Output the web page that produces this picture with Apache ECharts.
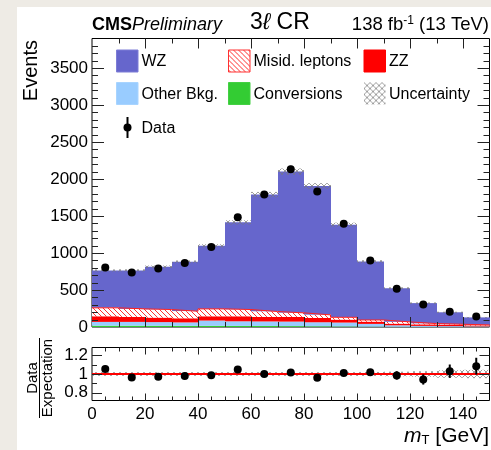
<!DOCTYPE html>
<html>
<head>
<meta charset="utf-8">
<script src="https://cdn.jsdelivr.net/npm/echarts@6/dist/echarts.min.js"></script>
<style>
  html, body { margin: 0; padding: 0; background: #eeebe5; }
  #sheet { position: absolute; left: 17px; top: 7px; right: 0; bottom: 0; background: #ffffff; }
  #chart { position: absolute; left: 0; top: 0; width: 491px; height: 450px; }
</style>
</head>
<body>
<div id="sheet"></div>
<div id="chart"></div>
<script>
// m_T binning (GeV)
const binEdges = [0, 10, 20, 30, 40, 50, 60, 70, 80, 90, 100, 110, 120, 130, 140, 150];

// observed events per bin and their uncertainties
const dataCounts = [805, 737, 791, 864, 1081, 1483, 1790, 2133, 1831, 1397, 900, 516, 304, 205, 141];
const dataErrors = [28, 27, 28, 29, 33, 39, 42, 46, 43, 37, 30, 23, 17, 14, 12];

// expected yields per process
const wzYield    = [504, 520, 579, 669, 852, 1179, 1581, 1910, 1743, 1252, 789, 455, 277, 162, 102];
const misidYield = [114, 108, 109, 95, 100, 91, 72, 54, 41, 31, 22, 23, 10, 7, 6];
const zzYield    = [76, 68, 61, 56, 58, 68, 62, 64, 59, 40, 31, 23, 21, 18, 13];
const otherYield = [51, 51, 49, 46, 71, 62, 61, 61, 54, 52, 37, 20, 13, 11, 8];
const convYield  = [18, 18, 17, 16, 16, 15, 14, 12, 10, 8, 5, 3, 2, 1, 1];

// relative uncertainty of the expectation, and ratio-panel error bars
const systRel     = [0.02, 0.02, 0.02, 0.02, 0.02, 0.02, 0.02, 0.02, 0.02, 0.02, 0.022, 0.025, 0.03, 0.04, 0.045];
const ratioErrors = [0.035, 0.037, 0.035, 0.033, 0.03, 0.027, 0.024, 0.022, 0.022, 0.027, 0.034, 0.045, 0.055, 0.072, 0.09];

// axis labels
const xTickLabels = [0, 20, 40, 60, 80, 100, 120, 140];
const yTickLabels = [0, 500, 1000, 1500, 2000, 2500, 3000, 3500];
const ratioTickLabels = ['0.8', '1', '1.2'];

const FONT = '"Liberation Sans", Arial, Helvetica, sans-serif';
const X_MIN = 0, X_MAX = 150;
const Y_MIN = 0, Y_MAX = 3900;
const R_MIN = 0.715, R_MAX = 1.285;

const N = dataCounts.length;
const binLow = binEdges.slice(0, -1);
const binHigh = binEdges.slice(1);
const centers = binLow.map((l, i) => (l + binHigh[i]) / 2);

// stack from the bottom up
const stackOrder = [convYield, otherYield, zzYield, misidYield, wzYield];
let running = new Array(N).fill(0);
const bounds = stackOrder.map(arr => {
  const lo = running.slice();
  running = running.map((c, i) => c + arr[i]);
  return { lo: lo, hi: running.slice() };
});
const totals = running;
const ratio = dataCounts.map((d, i) => d / totals[i]);

// fill patterns
function hatchPattern() {
  const s = 5, c = document.createElement('canvas');
  c.width = c.height = s;
  const g = c.getContext('2d');
  g.fillStyle = '#ffffff'; g.fillRect(0, 0, s, s);
  g.strokeStyle = '#ff3030'; g.lineWidth = 1;
  g.beginPath();
  g.moveTo(-1, -1); g.lineTo(s + 1, s + 1);
  g.moveTo(-1, s - 1); g.lineTo(1, s + 1);
  g.moveTo(s - 1, -1); g.lineTo(s + 1, 1);
  g.stroke();
  return { image: c, repeat: 'repeat' };
}
function crossPattern(bg) {
  const s = 6, c = document.createElement('canvas');
  c.width = c.height = s;
  const g = c.getContext('2d');
  if (bg) { g.fillStyle = bg; g.fillRect(0, 0, s, s); }
  g.strokeStyle = 'rgba(120,120,120,0.9)'; g.lineWidth = 0.8;
  g.beginPath();
  g.moveTo(0, 0); g.lineTo(s, s);
  g.moveTo(s, 0); g.lineTo(0, s);
  g.stroke();
  return { image: c, repeat: 'repeat' };
}
const HATCH = hatchPattern();
const CROSS = crossPattern(null);
const CROSS_BOX = crossPattern('#ffffff');

function binRect(api, lo, hi, y0, y1) {
  const a = api.coord([lo, y1]), b = api.coord([hi, y0]);
  const x = Math.round(a[0]);
  return { x: x, y: a[1], width: Math.round(b[0]) - x, height: b[1] - a[1] };
}

function layerSeries(name, k, fill, z) {
  return {
    type: 'custom', name: name, xAxisIndex: 0, yAxisIndex: 0, z: z, silent: true,
    data: binLow.map((l, i) => [l, binHigh[i], bounds[k].lo[i], bounds[k].hi[i]]),
    encode: { x: [0, 1], y: [2, 3] },
    renderItem: (p, api) => ({
      type: 'rect',
      shape: binRect(api, api.value(0), api.value(1), api.value(2), api.value(3)),
      style: { fill: fill }
    })
  };
}

function bandSeries(g, lows, highs, z) {
  return {
    type: 'custom', xAxisIndex: g, yAxisIndex: g, z: z, silent: true,
    data: binLow.map((l, i) => [l, binHigh[i], lows[i], highs[i]]),
    encode: { x: [0, 1], y: [2, 3] },
    renderItem: (p, api) => ({
      type: 'rect',
      shape: binRect(api, api.value(0), api.value(1), api.value(2), api.value(3)),
      style: { fill: CROSS }
    })
  };
}

function errorSeries(g, values, errs, z) {
  return {
    type: 'custom', xAxisIndex: g, yAxisIndex: g, z: z, silent: true,
    data: centers.map((c, i) => [c, values[i] - errs[i], values[i] + errs[i]]),
    encode: { x: 0, y: [1, 2] },
    renderItem: (p, api) => {
      const a = api.coord([api.value(0), api.value(1)]);
      const b = api.coord([api.value(0), api.value(2)]);
      return { type: 'line', shape: { x1: a[0], y1: a[1], x2: b[0], y2: b[1] },
               style: { stroke: '#000', lineWidth: 2 } };
    }
  };
}

// frame ticks on all four sides: [x, y, kind, length], kind 0 = x tick, 1 = y tick
function tickSeries(g, xMajor, xMinor, yMajor, yMinor, yLo, lens) {
  const items = [];
  xMajor.forEach(v => items.push([v, yLo, 0, lens[0]]));
  xMinor.forEach(v => items.push([v, yLo, 0, lens[1]]));
  yMajor.forEach(v => items.push([X_MIN, v, 1, lens[2]]));
  yMinor.forEach(v => items.push([X_MIN, v, 1, lens[3]]));
  return {
    type: 'custom', xAxisIndex: g, yAxisIndex: g, z: 8, silent: true,
    data: items,
    renderItem: (p, api) => {
      const cs = p.coordSys;
      const pt = api.coord([api.value(0), api.value(1)]);
      const len = api.value(3);
      const st = { stroke: '#222', lineWidth: 1 };
      if (api.value(2) === 0) {
        const x = Math.round(pt[0]) + 0.5;
        return { type: 'group', children: [
          { type: 'line', shape: { x1: x, y1: cs.y + cs.height, x2: x, y2: cs.y + cs.height - len }, style: st },
          { type: 'line', shape: { x1: x, y1: cs.y, x2: x, y2: cs.y + len }, style: st }
        ] };
      }
      const y = Math.round(pt[1]) + 0.5;
      return { type: 'group', children: [
        { type: 'line', shape: { x1: cs.x, y1: y, x2: cs.x + len, y2: y }, style: st },
        { type: 'line', shape: { x1: cs.x + cs.width, y1: y, x2: cs.x + cs.width - len, y2: y }, style: st }
      ] };
    }
  };
}

function range(a, b, step, skip) {
  const out = [];
  for (let v = a; v <= b + 1e-9; v += step) {
    const r = Math.round(v * 1000) / 1000;
    if (!skip || !skip(r)) out.push(r);
  }
  return out;
}

const mainXMajor = range(20, 140, 20);
const mainXMinor = range(10, 140, 20);
const mainYMajor = range(500, 3500, 500);
const mainYMinor = range(100, 3800, 100, v => v % 500 === 0);
const ratXMajor = range(20, 140, 20);
const ratXMinor = range(5, 145, 5, v => v % 20 === 0);
const ratYMajor = [0.8, 1.0, 1.2];
const ratYMinor = [0.9, 1.1];

// misid. leptons step outline
const misidEdge = binLow.map((l, i) => [l, bounds[3].hi[i]]);
misidEdge.push([binHigh[N - 1], bounds[3].hi[N - 1]]);

const axisOff = { axisLine: { show: false }, axisTick: { show: false }, splitLine: { show: false } };
const labelStyle = { color: '#000', fontSize: 17, fontFamily: FONT };

// legend layout
const legendCols = [116.5, 228.5, 364];
const legendRows = [61, 93.5];
const legendEntries = [
  { text: 'WZ', col: 0, row: 0, fill: '#6666cc', stroke: '#7d7dd6' },
  { text: 'Misid. leptons', col: 1, row: 0, fill: HATCH, stroke: '#ff3030' },
  { text: 'ZZ', col: 2, row: 0, fill: '#ff0000', stroke: '#ff0000' },
  { text: 'Other Bkg.', col: 0, row: 1, fill: '#99ccff', stroke: '#a8d4ff' },
  { text: 'Conversions', col: 1, row: 1, fill: '#33cc33', stroke: '#44d044' },
  { text: 'Uncertainty', col: 2, row: 1, fill: CROSS_BOX, stroke: null }
];
const graphics = [];
legendEntries.forEach(e => {
  const x = legendCols[e.col], y = legendRows[e.row];
  graphics.push({ type: 'rect', x: x, y: y - 11, shape: { width: 21.5, height: 22 },
    style: { fill: e.fill, stroke: e.stroke, lineWidth: 1 }, z: 20 });
  graphics.push({ type: 'text', x: x + 25, y: y + 1,
    style: { text: e.text, fill: '#000', font: '16px ' + FONT, textAlign: 'left', textVerticalAlign: 'middle', align: 'left', verticalAlign: 'middle' }, z: 20 });
});
graphics.push({ type: 'line', shape: { x1: 127.5, y1: 117, x2: 127.5, y2: 138 }, style: { stroke: '#000', lineWidth: 2 }, z: 20 });
graphics.push({ type: 'circle', shape: { cx: 127.5, cy: 127.5, r: 4 }, style: { fill: '#000' }, z: 20 });
graphics.push({ type: 'text', x: 141.5, y: 129,
  style: { text: 'Data', fill: '#000', font: '16px ' + FONT, textAlign: 'left', textVerticalAlign: 'middle', align: 'left', verticalAlign: 'middle' }, z: 20 });

// header
graphics.push({ type: 'text', x: 92, y: 25, z: 20,
  style: { text: '{b|CMS}{i|Preliminary}', textAlign: 'left', textVerticalAlign: 'middle', align: 'left', verticalAlign: 'middle',
    rich: { b: { fontFamily: FONT, fontWeight: 'bold', fontSize: 18, fill: '#000', color: '#000' },
            i: { fontFamily: FONT, fontStyle: 'italic', fontSize: 18, fill: '#000', color: '#000' } } } });
graphics.push({ type: 'text', x: 250, y: 22.5, z: 20,
  style: { text: '3{l|\u2113} CR', fill: '#000', font: '23px ' + FONT, textAlign: 'left', textVerticalAlign: 'middle', align: 'left', verticalAlign: 'middle',
    rich: { l: { fontFamily: FONT, fontStyle: 'italic', fontSize: 23, fill: '#000', color: '#000' } } } });
graphics.push({ type: 'text', x: 489, y: 25, z: 20,
  style: { text: '138 fb{s|-1} (13 TeV)', fill: '#000', font: '18.5px ' + FONT, textAlign: 'right', textVerticalAlign: 'middle', align: 'right', verticalAlign: 'middle',
    rich: { s: { fontFamily: FONT, fontSize: 12, verticalAlign: 'top', fill: '#000', color: '#000', padding: [0, 0, 8, 0] } } } });

// axis titles
graphics.push({ type: 'text', x: 31, y: 40, rotation: Math.PI / 2, z: 20,
  style: { text: 'Events', fill: '#000', font: '20px ' + FONT, textAlign: 'right', textVerticalAlign: 'middle', align: 'right', verticalAlign: 'middle' } });
graphics.push({ type: 'group', x: 39.5, y: 378, rotation: Math.PI / 2, z: 20, children: [
  { type: 'text', x: 0, y: -7, style: { text: 'Data', fill: '#000', font: '15px ' + FONT, textAlign: 'center', textVerticalAlign: 'middle', align: 'center', verticalAlign: 'middle' } },
  { type: 'line', shape: { x1: -40, y1: 0, x2: 40, y2: 0 }, style: { stroke: '#000', lineWidth: 1 } },
  { type: 'text', x: 0, y: 8, style: { text: 'Expectation', fill: '#000', font: '15px ' + FONT, textAlign: 'center', textVerticalAlign: 'middle', align: 'center', verticalAlign: 'middle' } }
] });
graphics.push({ type: 'text', x: 489, y: 436, z: 20,
  style: { text: '{m|m}{t|T} [GeV]', fill: '#000', font: '21px ' + FONT, textAlign: 'right', textVerticalAlign: 'middle', align: 'right', verticalAlign: 'middle',
    rich: { m: { fontFamily: FONT, fontStyle: 'italic', fontSize: 21, fill: '#000', color: '#000' },
            t: { fontFamily: FONT, fontSize: 13, verticalAlign: 'bottom', fill: '#000', color: '#000', padding: [7, 0, 0, 0] } } } });

const option = {
  animation: false,
  backgroundColor: 'transparent',
  textStyle: { fontFamily: FONT },
  grid: [
    { left: 92, right: 1.5, top: 38.5, height: 288.5, show: true, borderColor: '#000', borderWidth: 1, backgroundColor: 'transparent' },
    { left: 92, right: 1.5, top: 347.5, height: 53, show: true, borderColor: '#000', borderWidth: 1, backgroundColor: 'transparent' }
  ],
  xAxis: [
    Object.assign({ gridIndex: 0, type: 'value', min: X_MIN, max: X_MAX, axisLabel: { show: false } }, axisOff),
    Object.assign({ gridIndex: 1, type: 'value', min: X_MIN, max: X_MAX,
      axisLabel: Object.assign({ customValues: xTickLabels, margin: 5, formatter: v => String(v) }, labelStyle) }, axisOff)
  ],
  yAxis: [
    Object.assign({ gridIndex: 0, type: 'value', min: Y_MIN, max: Y_MAX,
      axisLabel: Object.assign({ customValues: yTickLabels, margin: 4, formatter: v => String(v) }, labelStyle) }, axisOff),
    Object.assign({ gridIndex: 1, type: 'value', min: R_MIN, max: R_MAX,
      axisLabel: Object.assign({ customValues: ratioTickLabels.map(Number), margin: 4,
        formatter: v => ratioTickLabels[ratioTickLabels.map(Number).indexOf(+v.toFixed(3))] || '' }, labelStyle) }, axisOff)
  ],
  graphic: graphics,
  series: [
    layerSeries('Conversions', 0, '#33cc33', 2),
    layerSeries('Other Bkg.', 1, '#99ccff', 2),
    layerSeries('ZZ', 2, '#ff0000', 2),
    layerSeries('WZ', 4, '#6666cc', 2),
    layerSeries('Misid. leptons', 3, HATCH, 3),
    { type: 'line', xAxisIndex: 0, yAxisIndex: 0, z: 4, silent: true, step: 'end', symbol: 'none',
      data: misidEdge, lineStyle: { color: '#ff2020', width: 1 } },
    bandSeries(0, totals.map((t, i) => t * (1 - systRel[i])), totals.map((t, i) => t * (1 + systRel[i])), 5),
    tickSeries(0, mainXMajor, mainXMinor, mainYMajor, mainYMinor, Y_MIN, [10, 5, 12, 6]),
    errorSeries(0, dataCounts, dataErrors, 9),
    { type: 'scatter', xAxisIndex: 0, yAxisIndex: 0, z: 10, silent: true, symbolSize: 8,
      data: centers.map((c, i) => [c, dataCounts[i]]), itemStyle: { color: '#000', opacity: 1 } },

    // ratio panel
    bandSeries(1, systRel.map(u => 1 - u), systRel.map(u => 1 + u), 3),
    { type: 'line', xAxisIndex: 1, yAxisIndex: 1, z: 4, silent: true, symbol: 'none',
      data: [[X_MIN, 1], [X_MAX, 1]], lineStyle: { color: '#ff0000', width: 2 } },
    tickSeries(1, ratXMajor, ratXMinor, ratYMajor, ratYMinor, R_MIN, [7, 4, 10, 5]),
    errorSeries(1, ratio, ratioErrors, 9),
    { type: 'scatter', xAxisIndex: 1, yAxisIndex: 1, z: 10, silent: true, symbolSize: 8,
      data: centers.map((c, i) => [c, ratio[i]]), itemStyle: { color: '#000', opacity: 1 } }
  ]
};

const chart = echarts.init(document.getElementById('chart'), null, { renderer: 'canvas' });
chart.setOption(option);
</script>
</body>
</html>
